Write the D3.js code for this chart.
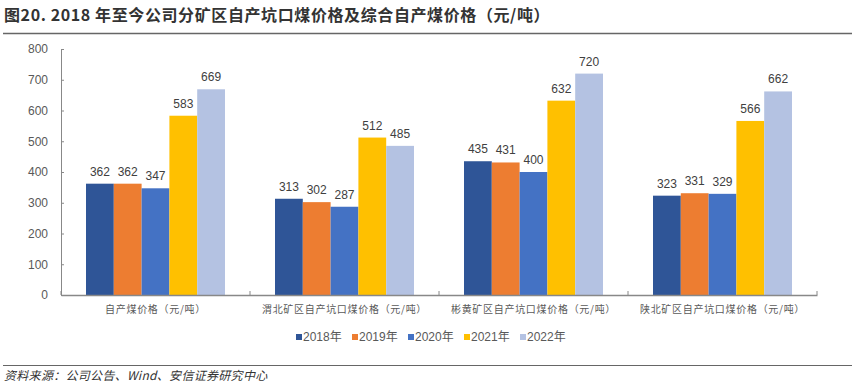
<!DOCTYPE html>
<html>
<head>
<meta charset="utf-8">
<script src="https://cdn.jsdelivr.net/npm/d3@7"></script>
<style>
  body { margin: 0; background: #fff; }
  svg { display: block; font-family: "Liberation Sans", Arial, "Noto Sans CJK SC", sans-serif; }
</style>
</head>
<body>
<svg id="chart" width="855" height="383"></svg>
<script>
const categories = [
  "自产煤价格（元/吨）",
  "渭北矿区自产坑口煤价格（元/吨）",
  "彬黄矿区自产坑口煤价格（元/吨）",
  "陕北矿区自产坑口煤价格（元/吨）"
];
const years = ["2018年", "2019年", "2020年", "2021年", "2022年"];
const values2018 = [362, 313, 435, 323];
const values2019 = [362, 302, 431, 331];
const values2020 = [347, 287, 400, 329];
const values2021 = [583, 512, 632, 566];
const values2022 = [669, 485, 720, 662];
const yTicks = [0, 100, 200, 300, 400, 500, 600, 700, 800];

const seriesValues = [values2018, values2019, values2020, values2021, values2022];
const colors = ["#2f5597", "#ed7d31", "#4472c4", "#ffc000", "#b4c2e2"];

const svg = d3.select("#chart");
const plotLeft = 61, plotRight = 817, plotTop = 49, plotBottom = 295;

// title
svg.append("text")
  .attr("x", 4).attr("y", 21)
  .attr("font-size", 16).attr("font-weight", "bold")
  .attr("letter-spacing", "0.6px")
  .attr("fill", "#333")
  .attr("font-family", "'Noto Sans CJK SC', sans-serif")
  .text("图20. 2018 年至今公司分矿区自产坑口煤价格及综合自产煤价格（元/吨）");
svg.append("line")
  .attr("x1", 3).attr("x2", 852).attr("y1", 33.5).attr("y2", 33.5)
  .attr("stroke", "#666").attr("stroke-width", 1.5);

const x = d3.scaleBand().domain(categories).range([plotLeft, plotRight]);
const x1 = d3.scaleBand().domain(years).range([25, x.bandwidth() - 25]);
const y = d3.scaleLinear().domain([0, 800]).range([plotBottom, plotTop]);

// y axis
const yAxis = svg.append("g")
  .attr("transform", `translate(${plotLeft},0)`)
  .call(d3.axisLeft(y).tickValues(yTicks).tickSize(-3).tickPadding(13));
yAxis.select(".domain").attr("stroke", "#888");
yAxis.selectAll(".tick line").attr("stroke", "#888");
yAxis.selectAll(".tick text").attr("font-size", 12).attr("fill", "#595959")
  .attr("font-family", "'Liberation Sans', Arial, sans-serif");

// bars
const groups = svg.append("g").selectAll("g")
  .data(categories)
  .join("g")
  .attr("transform", d => `translate(${x(d)},0)`);

groups.each(function(cat, ci) {
  const g = d3.select(this);
  years.forEach((yr, si) => {
    const v = seriesValues[si][ci];
    g.append("rect")
      .attr("x", x1(yr))
      .attr("width", x1.bandwidth())
      .attr("y", y(v))
      .attr("height", y(0) - y(v))
      .attr("fill", colors[si]);
    g.append("text")
      .attr("x", x1(yr) + x1.bandwidth() / 2)
      .attr("y", y(v) - 8)
      .attr("text-anchor", "middle")
      .attr("font-size", 12)
      .attr("fill", "#404040")
      .text(v);
  });
});

// x axis
const xAxis = svg.append("g")
  .attr("transform", `translate(0,${plotBottom})`)
  .call(d3.axisBottom(x).tickSize(0).tickPadding(9));
xAxis.select(".domain").attr("stroke", "#888").attr("stroke-width", 1.5);
xAxis.selectAll(".tick text")
  .attr("font-size", 10).attr("fill", "#595959")
  .attr("letter-spacing", "0.7px")
  .attr("font-family", "'Noto Sans CJK SC', sans-serif")
  .attr("dy", "0.9em");
svg.append("g").selectAll("line")
  .data(categories.map(c => x(c)).concat([plotRight]))
  .join("line")
  .attr("x1", d => d).attr("x2", d => d)
  .attr("y1", plotBottom).attr("y2", plotBottom - 4)
  .attr("stroke", "#888");

// legend
const legend = svg.append("g").selectAll("g")
  .data(years)
  .join("g")
  .attr("transform", (d, i) => `translate(${296 + i * 56},338)`);
legend.append("rect")
  .attr("x", 0).attr("y", -4).attr("width", 6).attr("height", 6)
  .attr("fill", (d, i) => colors[i]);
legend.append("text")
  .attr("x", 7).attr("y", 3)
  .attr("font-size", 12).attr("fill", "#595959")
  .text(d => d);

// footer
svg.append("line")
  .attr("x1", 3).attr("x2", 852).attr("y1", 365.5).attr("y2", 365.5)
  .attr("stroke", "#666").attr("stroke-width", 1.2);
svg.append("text")
  .attr("x", 4).attr("y", 380)
  .attr("font-size", 12).attr("font-style", "italic")
  .attr("letter-spacing", "0.3px")
  .attr("fill", "#333")
  .attr("font-family", "'Noto Sans CJK SC', sans-serif")
  .text("资料来源：公司公告、Wind、安信证券研究中心");
</script>
</body>
</html>
